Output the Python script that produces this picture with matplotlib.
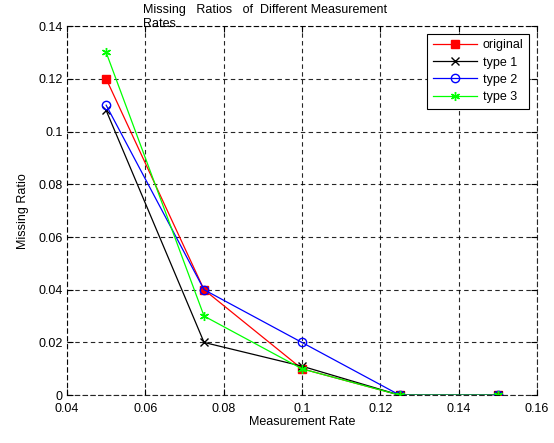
import matplotlib
matplotlib.use("Agg")
import matplotlib.pyplot as plt

plt.rcParams['font.family'] = ['Liberation Sans', 'DejaVu Sans']

rates = [0.05, 0.075, 0.1, 0.125, 0.15]
original = [0.12, 0.04, 0.01, 0.0, 0.0]
type1 = [0.108, 0.02, 0.011, 0.0, 0.0]
type2 = [0.11, 0.04, 0.02, 0.0, 0.0]
type3 = [0.13, 0.03, 0.01, 0.0, 0.0]
xticks = [0.04, 0.06, 0.08, 0.1, 0.12, 0.14, 0.16]
xticklabels = ['0.04', '0.06', '0.08', '0.1', '0.12', '0.14', '0.16']
yticks = [0, 0.02, 0.04, 0.06, 0.08, 0.1, 0.12, 0.14]
yticklabels = ['0', '0.02', '0.04', '0.06', '0.08', '0.1', '0.12', '0.14']

fig = plt.figure(figsize=(5.54, 4.43), dpi=100)
ax = fig.add_axes([0.121, 0.108, 0.848, 0.833])

ax.plot(rates, original, color='#ff0000', marker='s', markersize=5.5, linewidth=0.9,
        markerfacecolor='#ff0000', markeredgecolor='#ff0000', label='original')
ax.plot(rates, type1, color='black', marker='x', markersize=5.5, linewidth=0.9,
        label='type 1')
ax.plot(rates, type2, color='#0000ff', marker='o', markersize=6, linewidth=0.9,
        markerfacecolor='none', label='type 2')
ax.plot(rates, type3, color='#00ff00', marker=(6, 2, 0), markersize=6.5, linewidth=0.9,
        label='type 3')

ax.set_xlim(0.04, 0.16)
ax.set_ylim(0, 0.14)
ax.set_xticks(xticks)
ax.set_xticklabels(xticklabels)
ax.set_yticks(yticks)
ax.set_yticklabels(yticklabels)
ax.tick_params(direction='in', labelsize=9, length=4, top=True, right=True, pad=3)
ax.tick_params(axis='x', pad=6)
ax.grid(True, color='black', linestyle=(0, (4, 3)), linewidth=0.8, alpha=0.85)
for s in ax.spines.values():
    s.set_linestyle((0, (4, 3)))
    s.set_linewidth(0.8)
    s.set_alpha(0.85)

ax.set_xlabel('Measurement Rate', fontsize=9, labelpad=0.5)
ax.set_ylabel('Missing Ratio', fontsize=9, labelpad=7)
fig.text(0.258, 0.99, 'Missing   Ratios   of  Different Measurement\nRates',
         fontsize=9, ha='left', va='top', linespacing=1.12)

leg = ax.legend(loc='upper right', fontsize=9, frameon=True, fancybox=False,
                edgecolor='black', framealpha=1, borderaxespad=0.6,
                handlelength=3.5, labelspacing=0.42, handletextpad=0.5,
                borderpad=0.45)
leg.get_frame().set_linewidth(0.8)

fig.savefig('out.png', dpi=100)
